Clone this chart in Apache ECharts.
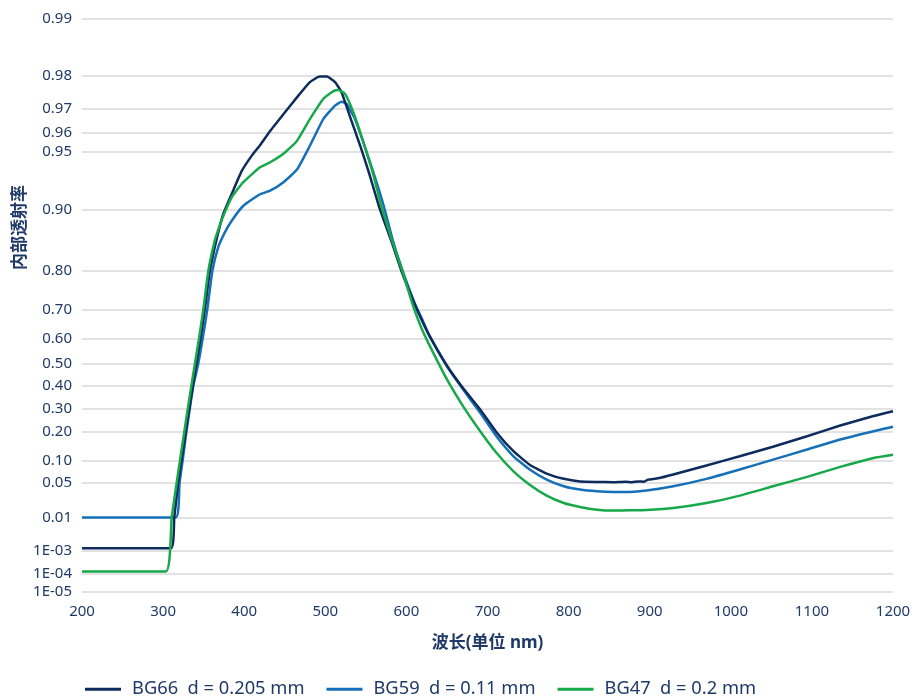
<!DOCTYPE html>
<html>
<head>
<meta charset="utf-8">
<script src="https://cdn.jsdelivr.net/npm/echarts@6/dist/echarts.min.js"></script>
<style>
html,body{margin:0;padding:0;background:#fff;}
#chart{width:915px;height:700px;}
</style>
</head>
<body>
<div id="chart"></div>
<script>
// Tick values (internal transmittance) and their labels
const tickT = [0.99, 0.98, 0.97, 0.96, 0.95, 0.90, 0.80, 0.70, 0.60, 0.50, 0.40, 0.30, 0.20, 0.10, 0.05, 0.01, 0.001, 0.0001, 0.00001];
const tickLabels = ['0.99', '0.98', '0.97', '0.96', '0.95', '0.90', '0.80', '0.70', '0.60', '0.50', '0.40', '0.30', '0.20', '0.10', '0.05', '0.01', '1E-03', '1E-04', '1E-05'];

const seriesNames = ['BG66  d = 0.205 mm', 'BG59  d = 0.11 mm', 'BG47  d = 0.2 mm'];

// BG66
const bg66Wl = [200, 309.7, 313.8, 318.7, 322.6, 328, 332.4, 336.7, 341.2, 346.1, 351.4, 357.6, 366, 374, 385, 397, 410, 420, 432, 448, 465, 481, 493, 502, 512, 520, 530, 543, 555, 567, 582, 594, 608.5, 619, 629, 650, 670, 691, 711, 732, 752, 773, 794, 814, 835, 855, 870, 878, 886, 893, 898, 910, 929, 970, 1011, 1052, 1094, 1135, 1176, 1200];
const bg66T = [0.0012, 0.0012, 0.01, 0.05, 0.10, 0.20, 0.30, 0.40, 0.50, 0.60, 0.70, 0.80, 0.86, 0.895, 0.918, 0.937, 0.948, 0.954, 0.961, 0.968, 0.974, 0.9784, 0.9798, 0.9798, 0.9784, 0.9756, 0.9676, 0.9534, 0.9333, 0.902, 0.855, 0.80, 0.725, 0.665, 0.607, 0.49, 0.39, 0.295, 0.199, 0.130, 0.090, 0.068, 0.057, 0.052, 0.051, 0.0505, 0.0515, 0.0505, 0.052, 0.0515, 0.0555, 0.058, 0.066, 0.088, 0.114, 0.145, 0.183, 0.226, 0.266, 0.287];

// BG59
const bg59Wl = [200, 315.5, 320.3, 324, 328.7, 333, 337.2, 343.4, 348.8, 354.5, 360.7, 368, 376.3, 384.6, 399, 419.5, 432, 448, 465, 481, 497.5, 512, 520, 526.4, 536.6, 549, 561.3, 572, 584, 595.5, 610, 620, 629, 650, 670, 691, 711, 732, 752, 773, 794, 814, 835, 855, 876, 896, 929, 970, 1011, 1052, 1094, 1135, 1176, 1200];
const bg59T = [0.01, 0.01, 0.05, 0.10, 0.20, 0.30, 0.40, 0.50, 0.60, 0.70, 0.80, 0.847, 0.871, 0.887, 0.905, 0.917, 0.9204, 0.9278, 0.938, 0.9534, 0.9662, 0.9713, 0.9726, 0.9718, 0.9662, 0.9525, 0.932, 0.905, 0.855, 0.80, 0.72, 0.665, 0.607, 0.488, 0.385, 0.280, 0.183, 0.114, 0.0776, 0.0554, 0.0433, 0.038, 0.0355, 0.0346, 0.0346, 0.0365, 0.0433, 0.057, 0.0776, 0.104, 0.1355, 0.171, 0.203, 0.221];

// BG47
const bg47Wl = [200, 303.2, 310.6, 316.8, 320.7, 326.1, 330.5, 334.8, 339.3, 344.3, 349.6, 355.7, 363.1, 368.1, 374.2, 384.6, 398.9, 419.5, 432, 448, 465, 481, 497.5, 510, 516, 524.3, 534.5, 547, 559, 569, 583, 595, 609, 619, 629, 650, 670, 691, 711, 732, 752, 773, 794, 814, 835, 855, 876, 896, 929, 970, 1011, 1052, 1094, 1135, 1176, 1200];
const bg47T = [0.00013, 0.00013, 0.01, 0.05, 0.10, 0.20, 0.30, 0.40, 0.50, 0.60, 0.70, 0.80, 0.855, 0.875, 0.893, 0.914, 0.928, 0.9397, 0.9432, 0.9485, 0.956, 0.9662, 0.9735, 0.9759, 0.9762, 0.9751, 0.9689, 0.9553, 0.9346, 0.905, 0.855, 0.80, 0.705, 0.635, 0.571, 0.430, 0.309, 0.203, 0.125, 0.0735, 0.0461, 0.0296, 0.0212, 0.0175, 0.0152, 0.0145, 0.0147, 0.015, 0.0166, 0.0212, 0.0296, 0.0433, 0.061, 0.0843, 0.109, 0.119];

const colors = ['#0d2b5c', '#1570b8', '#17a84a'];
const textColor = '#1f3a68';

// Transmittance scale: v = -log10(-log10(T))
function tr(t) { return -Math.log10(-Math.log10(t)); }
const tickV = tickT.map(tr);

function pairs(wl, t) { return wl.map((w, i) => [w, tr(t[i])]); }

const chart = echarts.init(document.getElementById('chart'));
const font = '"Noto Sans", "Noto Sans CJK SC", sans-serif';

chart.setOption({
  animation: false,
  textStyle: { fontFamily: font },
  grid: { left: 82, right: 22, top: 19, bottom: 108, containLabel: false },
  xAxis: {
    type: 'value', min: 200, max: 1200, interval: 100,
    name: '波长(单位 nm)', nameLocation: 'middle', nameGap: 43,
    nameTextStyle: { color: textColor, fontSize: 17, fontWeight: 'bold', fontFamily: font },
    axisLine: { show: false }, axisTick: { show: false }, splitLine: { show: false },
    axisLabel: { color: textColor, fontSize: 15, margin: 12, fontFamily: font, formatter: function (v) { return String(v); } }
  },
  yAxis: {
    type: 'value', min: tr(0.00001), max: tr(0.99),
    axisLine: { show: false },
    axisTick: { show: false, customValues: tickV },
    axisLabel: {
      customValues: tickV, color: textColor, fontSize: 15, margin: 10, fontFamily: font,
      formatter: function (v) {
        for (let i = 0; i < tickV.length; i++) { if (Math.abs(tickV[i] - v) < 1e-6) return tickLabels[i]; }
        return '';
      }
    },
    splitLine: { show: true, lineStyle: { color: '#d9d9d9', width: 1.5 } }
  },
  legend: {
    left: 85, top: 680, padding: 0, itemWidth: 36, itemHeight: 3, itemGap: 22, icon: 'rect',
    textStyle: { color: textColor, fontSize: 18.3, fontFamily: font, padding: [0, 0, 0, 6] },
    data: seriesNames
  },
  graphic: [{
    type: 'text', left: 10, top: 185, rotation: Math.PI / 2,
    style: { text: '内部透射率', fill: textColor, font: 'bold 17px "Noto Sans CJK SC"' }
  }],
  series: [
    { name: seriesNames[0], type: 'line', data: pairs(bg66Wl, bg66T), showSymbol: false, smooth: 0.15, lineStyle: { color: colors[0], width: 2.5 }, itemStyle: { color: colors[0] }, z: 3 },
    { name: seriesNames[1], type: 'line', data: pairs(bg59Wl, bg59T), showSymbol: false, smooth: 0.15, lineStyle: { color: colors[1], width: 2.5 }, itemStyle: { color: colors[1] }, z: 2 },
    { name: seriesNames[2], type: 'line', data: pairs(bg47Wl, bg47T), showSymbol: false, smooth: 0.15, lineStyle: { color: colors[2], width: 2.5 }, itemStyle: { color: colors[2] }, z: 4 }
  ]
});
</script>
</body>
</html>
